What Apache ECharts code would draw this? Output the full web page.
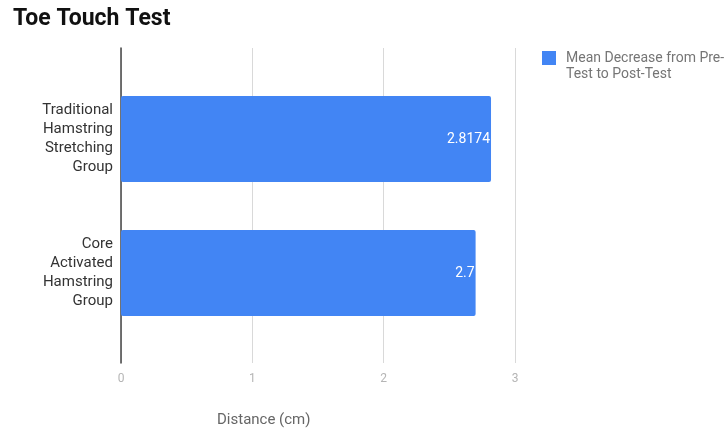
<!DOCTYPE html>
<html>
<head>
<meta charset="utf-8">
<script src="https://cdn.jsdelivr.net/npm/echarts@6/dist/echarts.min.js"></script>
<style>html,body{margin:0;padding:0;background:#fff}#c{width:725px;height:432px}</style>
</head>
<body>
<div id="c"></div>
<script>
const categories = ["Traditional\nHamstring\nStretching\nGroup", "Core\nActivated\nHamstring\nGroup"];
const values = [2.8174, 2.7];
const seriesName = "Mean Decrease from Pre-Test to Post-Test";
const xTicks = [0, 1, 2, 3];
const titleText = "Toe Touch Test";
const axisName = "Distance (cm)";

const chart = echarts.init(document.getElementById('c'), null, {renderer: 'canvas'});
const font = 'Roboto, Arial, sans-serif';
chart.setOption({
  animation: false,
  textStyle: {fontFamily: font},
  title: {
    text: titleText, left: 8, top: 3,
    textStyle: {fontSize: 23, fontWeight: 'bold', color: '#111', fontFamily: font}
  },
  legend: {
    left: 537, top: 29, orient: 'vertical',
    icon: 'rect', itemWidth: 14, itemHeight: 14, itemGap: 6,
    formatter: function (n) {
      const parts = n.replace('Pre-Test', 'Pre-\nTest').split('\n');
      return '{b| }\n' + parts.map(function (s) { return '{b|' + s + '}'; }).join('\n');
    },
    textStyle: {
      fontSize: 14, color: '#757575', lineHeight: 16, fontFamily: font,
      rich: {b: {fontSize: 14, color: '#757575', lineHeight: 16, fontFamily: font, padding: [0, 0, 0, 5]}}
    },
    data: [seriesName]
  },
  grid: [
    {left: 121, width: 394, top: 48, height: 315},
    {left: 121, width: 394, top: 72, height: 268}
  ],
  xAxis: [
    {
      gridIndex: 0, type: 'value', min: xTicks[0], max: xTicks[xTicks.length - 1], interval: 1,
      axisLine: {show: false}, axisTick: {show: false},
      axisLabel: {color: '#b5b5b5', fontSize: 12, margin: 10, fontFamily: font},
      splitLine: {show: true, lineStyle: {color: '#d9d9d9', width: 1}}
    },
    {
      gridIndex: 1, type: 'value', min: xTicks[0], max: xTicks[xTicks.length - 1], interval: 1,
      show: false
    }
  ],
  yAxis: [
    {
      gridIndex: 0, type: 'value', min: 0, max: 1,
      axisLine: {show: true, lineStyle: {color: '#444', width: 1.5}},
      axisTick: {show: false}, axisLabel: {show: false}, splitLine: {show: false}
    },
    {
      gridIndex: 1, type: 'category', data: categories, inverse: true,
      axisLine: {show: false}, axisTick: {show: false},
      axisLabel: {color: '#333', fontSize: 15, lineHeight: 19, margin: 8, align: 'right', fontFamily: font},
      splitLine: {show: false}
    }
  ],
  series: [{
    name: seriesName, type: 'bar', xAxisIndex: 1, yAxisIndex: 1,
    data: values, barWidth: 86,
    itemStyle: {color: '#4285f4', borderRadius: 2},
    label: {
      show: true, position: 'insideRight', distance: 1,
      color: '#fff', fontSize: 14, fontFamily: font,
      formatter: function (p) { return String(p.value); }
    }
  }],
  graphic: [{
    type: 'text', left: 217, top: 413,
    style: {text: axisName, fontSize: 15, fill: '#666', fontFamily: font}
  }]
});
</script>
</body>
</html>
